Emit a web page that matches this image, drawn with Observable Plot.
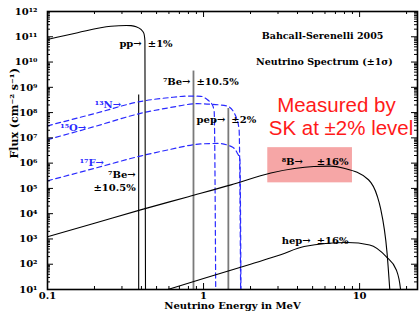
<!DOCTYPE html>
<html><head><meta charset="utf-8">
<script src="https://cdn.jsdelivr.net/npm/d3@7"></script>
<script src="https://cdn.jsdelivr.net/npm/@observablehq/plot@0.6"></script>
<style>body{margin:0;background:#fff}</style>
</head><body>
<script>
// ---- data ----
const ppE  = [0.1, 0.156, 0.255, 0.32, 0.343, 0.37, 0.397, 0.414, 0.421, 0.425];
const ppF  = [7.8e10, 1.45e11, 2.6e11, 2.8e11, 2.75e11, 2.5e11, 1.95e11, 1.4e11, 7e10, 1];
const n13E = [0.1, 0.2, 0.4, 0.6, 0.8, 0.96, 1.06, 1.14, 1.17, 1.199];
const n13F = [3.0e7, 9.1e7, 2.8e8, 3.9e8, 4.5e8, 4.4e8, 3.2e8, 2.0e8, 1.1e8, 1];
const o15E = [0.1, 0.2, 0.4, 0.6, 0.92, 1.1, 1.42, 1.61, 1.69, 1.732];
const o15F = [8.5e6, 2.8e7, 9.5e7, 1.55e8, 2.25e8, 2.15e8, 1.8e8, 7.1e7, 2.1e7, 1];
const f17E = [0.1, 0.2, 0.4, 0.6, 0.96, 1.23, 1.5, 1.64, 1.71, 1.74];
const f17F = [2.0e5, 6.2e5, 1.95e6, 3.4e6, 5.75e6, 6.0e6, 4.6e6, 2.6e6, 1.35e6, 1];
const b8E  = [0.1, 0.2, 0.4, 0.8, 1.5, 2.7, 5.1, 6.5, 7.94, 11.4, 13.0, 13.6, 15.0, 15.6, 16.0];
const b8F  = [1.23e3, 4.2e3, 1.45e4, 4.7e4, 1.38e5, 4.1e5, 7.4e5, 7.6e5, 6.3e5, 2.2e5, 4.8e4, 1.7e4, 2.75e2, 10.5, 1];
const hepE = [0.59, 1.0, 2.0, 3.12, 4.41, 8.34, 11.6, 14.8, 17.2, 18.3, 18.8];
const hepF = [10, 27, 1.0e2, 2.35e2, 5.0e2, 7.2e2, 5.8e2, 2.0e2, 59, 10, 1];
const lineNames = ["7Be 384", "7Be 862", "pep"];
const lineE = [0.384, 0.862, 1.442];
const lineF = [5e8, 4.4e9, 1.45e8];
const box = [{x1: 2.58, x2: 9.0, y1: 1.66e5, y2: 4.1e6}];

const xMajor = [0.1, 1, 10];
const xTickLabels = ["0.1", "1", "10"];
const xMinor = [0.2,0.3,0.4,0.5,0.6,0.7,0.8,0.9,2,3,4,5,6,7,8,9,20];
const yMajor = [1e1,1e2,1e3,1e4,1e5,1e6,1e7,1e8,1e9,1e10,1e11,1e12];
const yTickLabels = ["10¹","10²","10³","10⁴","10⁵","10⁶","10⁷","10⁸","10⁹","10¹⁰","10¹¹","10¹²"];
const yMinor = yMajor.slice(0, -1).flatMap(p => [2,3,4,5,6,7,8,9].map(m => m * p));

// labels left of a line (end) and right of it (start)
const labelsEnd = [
  {t: "pp→", E: 0.42, F: 5.4e10},
  {t: "⁷Be→", E: 0.862, F: 1.7e9},
  {t: "pep→", E: 1.442, F: 5.3e7},
  {t: "⁷Be→", E: 0.384, F: 3.5e5},
  {t: "±10.5%", E: 0.384, F: 1.05e5}
];
const labelsStart = [
  {t: "±1%", E: 0.42, F: 5.4e10},
  {t: "±10.5%", E: 0.862, F: 1.7e9},
  {t: "±2%", E: 1.442, F: 5.3e7},
  {t: "⁸B→", E: 3.03, F: 1.15e6},
  {t: "±16%", E: 5.08, F: 1.15e6},
  {t: "hep→", E: 3.03, F: 8.3e2},
  {t: "±16%", E: 5.08, F: 8.3e2}
];
const blueLabels = [
  {t: "¹³N→", E: 0.296, F: 2.0e8},
  {t: "¹⁵O→", E: 0.177, F: 2.5e7},
  {t: "¹⁷F→", E: 0.23, F: 1.0e6}
];
const titles = [
  {t: "Bahcall-Serenelli 2005", E: 2.36, F: 1.1e11},
  {t: "Neutrino Spectrum (±1σ)", E: 2.17, F: 1.05e10}
];
const redText = [
  {t: "Measured by", E: 7.1, F: 1.9e8},
  {t: "SK at ±2% level", E: 7.6, F: 2.4e7}
];
const xLabel = "Neutrino Energy in MeV";
const yLabel = "Flux (cm⁻² s⁻¹)";

const rows = (E, F, name) => E.map((e, i) => ({E: e, F: F[i], name}));
const blackCurves = [...rows(ppE, ppF, "pp"), ...rows(b8E, b8F, "8B"), ...rows(hepE, hepF, "hep")];
const blueCurves = [...rows(n13E, n13F, "13N"), ...rows(o15E, o15F, "15O"), ...rows(f17E, f17F, "17F")];
const lines = lineNames.map((n, i) => ({name: n, E: lineE[i], F: lineF[i]}));

const W = 420, H = 313, mL = 47, mR = 3, mT = 11, mB = 24;
const fw = W - mL - mR, fh = H - mT - mB;
const serif = "DejaVu Serif";
const yMin = 10;
const lab = {fontSize: 10, fontWeight: "bold", fontFamily: serif};

const chart = Plot.plot({
  width: W, height: H, marginLeft: mL, marginRight: mR, marginTop: mT, marginBottom: mB,
  x: {type: "log", domain: [0.1, 23.5]},
  y: {type: "log", domain: [10, 1e12]},
  style: {fontFamily: serif, background: "white", color: "black"},
  marks: [
    Plot.rect(box, {x1: "x1", x2: "x2", y1: "y1", y2: "y2", fill: "#f6a6a6"}),
    Plot.ruleX(lines.filter(d => d.name !== "7Be 384"), {x: "E", y1: yMin, y2: "F", stroke: "#7a7a7a", strokeWidth: 1.8}),
    Plot.ruleX(lines.filter(d => d.name === "7Be 384"), {x: "E", y1: yMin, y2: "F", stroke: "black", strokeWidth: 1.1}),
    Plot.line(blueCurves, {x: "E", y: "F", z: "name", stroke: "#2a2aff", strokeWidth: 1.2, strokeDasharray: "5,3.5", curve: "monotone-x", clip: true}),
    Plot.line(blackCurves, {x: "E", y: "F", z: "name", stroke: "black", strokeWidth: 1.1, curve: "monotone-x", clip: true}),
    // inward ticks
    Plot.tickX(xMajor, {x: d => d, insetTop: fh - 6, stroke: "black"}),
    Plot.tickX(xMinor, {x: d => d, insetTop: fh - 3, stroke: "black"}),
    Plot.tickX(xMajor, {x: d => d, insetBottom: fh - 6, stroke: "black"}),
    Plot.tickX(xMinor, {x: d => d, insetBottom: fh - 3, stroke: "black"}),
    Plot.tickY(yMajor, {y: d => d, insetRight: fw - 6, stroke: "black"}),
    Plot.tickY(yMinor, {y: d => d, insetRight: fw - 3, stroke: "black"}),
    Plot.tickY(yMajor, {y: d => d, insetLeft: fw - 6, stroke: "black"}),
    Plot.tickY(yMinor, {y: d => d, insetLeft: fw - 3, stroke: "black"}),
    Plot.frame({stroke: "black", strokeWidth: 1.6}),
    Plot.axisX(xMajor, {tickSize: 0, tickPadding: 2, tickFormat: d => xTickLabels[xMajor.indexOf(d)], ...lab}),
    Plot.axisY(yMajor, {tickSize: 0, tickPadding: 10, tickFormat: d => yTickLabels[yMajor.indexOf(d)], ...lab}),
    // labels
    Plot.text(labelsEnd, {x: "E", y: "F", text: "t", textAnchor: "end", dx: -3, ...lab, fill: "black"}),
    Plot.text(labelsStart, {x: "E", y: "F", text: "t", textAnchor: "start", dx: 3, ...lab, fill: "black"}),
    Plot.text(blueLabels, {x: "E", y: "F", text: "t", textAnchor: "end", ...lab, fill: "#2a2aff"}),
    Plot.text(titles, {x: "E", y: "F", text: "t", textAnchor: "start", ...lab, fontSize: 9.5, fill: "black"}),
    Plot.text(redText, {x: "E", y: "F", text: "t", textAnchor: "middle", fontSize: 20.5, fontFamily: "Liberation Sans", fill: "#ff1a1a"}),
    Plot.text([xLabel], {frameAnchor: "bottom", dy: 19, ...lab}),
    Plot.text([yLabel], {frameAnchor: "left", dx: -33, dy: 8, rotate: -90, ...lab, fontSize: 11})
  ]
});
document.body.appendChild(chart);
</script>
</body></html>
